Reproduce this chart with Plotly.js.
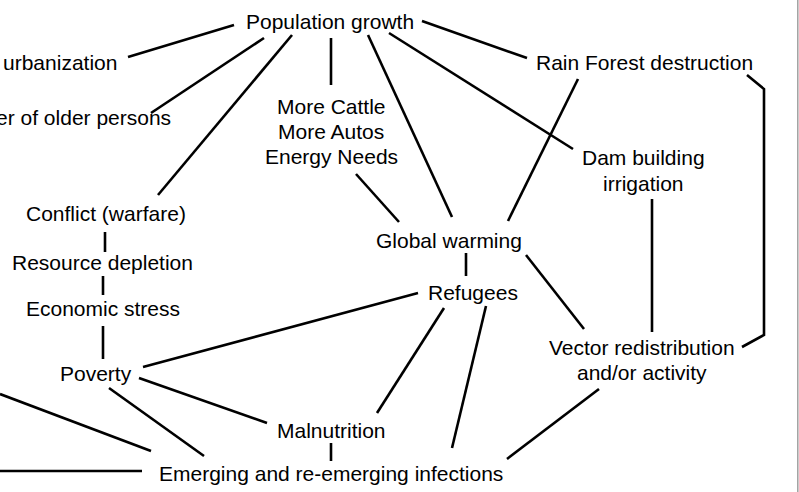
<!DOCTYPE html>
<html>
<head>
<meta charset="utf-8">
<script src="https://cdn.plot.ly/plotly-3.0.1.min.js"></script>
<style>html,body{margin:0;padding:0;background:#fff;}#chart{width:799px;height:492px;}</style>
</head>
<body>
<div id="chart"></div>
<script>
// Node labels (one entry per text line, as visible in the figure), their positions and horizontal anchor
const labelText = [
  "Population growth",
  "urbanization",
  "er of older persons",
  "More Cattle", "More Autos", "Energy Needs",
  "Rain Forest destruction",
  "Dam building", "irrigation",
  "Conflict (warfare)",
  "Resource depletion",
  "Economic stress",
  "Global warming",
  "Refugees",
  "Vector redistribution", "and/or activity",
  "Poverty",
  "Malnutrition",
  "Emerging and re-emerging infections"
];
const labelX = [330, 119, 173, 331, 331, 331, 644, 643, 643, 106, 102, 103, 449, 473, 642, 642, 96, 331, 331];
const labelY = [21, 62, 117, 106, 131, 156, 62, 157, 183, 213, 262, 308, 240, 292, 347, 372, 373, 430, 473];
const labelAnchor = ["center", "right", "right", "center", "center", "center", "center", "center", "center",
  "center", "center", "center", "center", "center", "center", "center", "center", "center", "center"];

// Connecting links, each a polyline of points
const linkX = [
  [234, 128], [264, 151], [292, 158], [331, 331], [368, 452], [389, 573], [422, 527],
  [578, 508], [747, 764, 764, 742], [652, 652], [356, 399], [466, 466], [526, 584],
  [418, 143], [444, 377], [486, 452], [599, 507], [139, 267], [109, 204], [331, 331],
  [0, 151], [0, 142], [105, 105], [103, 103], [103, 103]
];
const linkY = [
  [25, 57], [38, 113], [35, 195], [38, 85], [35, 217], [33, 149], [21, 58],
  [79, 221], [75, 89, 335, 347], [199, 332], [174, 222], [253, 276], [255, 329],
  [293, 367], [308, 413], [306, 448], [389, 459], [378, 423], [388, 456], [443, 461],
  [394, 451], [471, 471], [232, 252], [276, 295], [326, 359]
];

const xs = [], ys = [];
linkX.forEach((pts, i) => {
  pts.forEach((x, j) => { xs.push(x); ys.push(linkY[i][j]); });
  xs.push(null); ys.push(null);
});

const traces = [{
  type: "scatter", mode: "lines", x: xs, y: ys,
  line: {color: "#000", width: 2.6}, hoverinfo: "skip", showlegend: false
}];

const annotations = labelText.map((t, i) => ({
  x: labelX[i], y: labelY[i], xref: "x", yref: "y",
  text: t, showarrow: false, xanchor: labelAnchor[i], yanchor: "middle",
  font: {family: "Liberation Sans, Arial, sans-serif", size: 21, color: "#000"}
}));

const layout = {
  width: 799, height: 492,
  margin: {l: 0, r: 0, t: 0, b: 0, pad: 0},
  paper_bgcolor: "#fff", plot_bgcolor: "#fff",
  xaxis: {range: [0, 799], visible: false, fixedrange: true},
  yaxis: {range: [492, 0], visible: false, fixedrange: true},
  annotations: annotations,
  shapes: [{type: "line", xref: "paper", yref: "paper", x0: 0.9985, x1: 0.9985, y0: 0, y1: 1,
    line: {color: "#a0a0a0", width: 1.5}}],
  showlegend: false
};

Plotly.newPlot("chart", traces, layout, {staticPlot: true, displayModeBar: false});
</script>
</body>
</html>
